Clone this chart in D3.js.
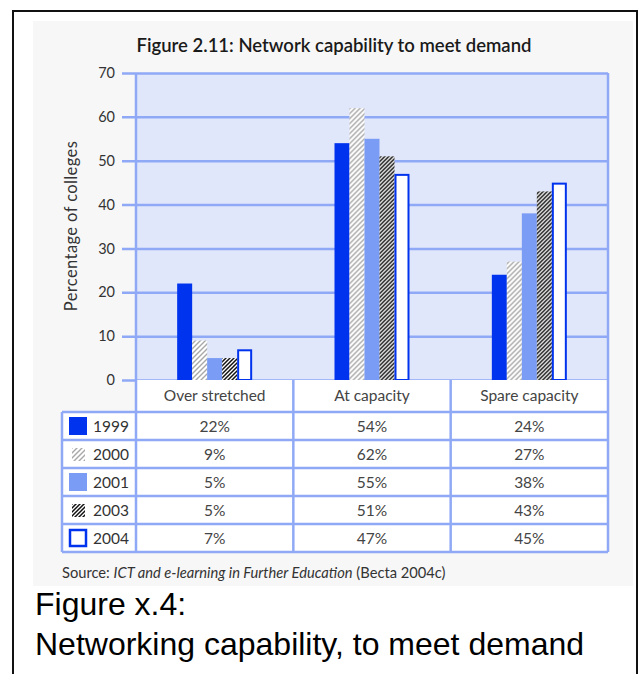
<!DOCTYPE html>
<html>
<head>
<meta charset="utf-8">
<script src="https://cdn.jsdelivr.net/npm/d3@7"></script>
<style>
  html, body { margin: 0; padding: 0; background: #ffffff; }
  svg { display: block; }
</style>
</head>
<body>
<svg id="chart" width="640" height="674"></svg>
<script>
// Survey categories and yearly shares of colleges (percent)
const categories = ["Over stretched", "At capacity", "Spare capacity"];
const years = ["1999", "2000", "2001", "2003", "2004"];
const values1999 = [22, 54, 24];
const values2000 = [9, 62, 27];
const values2001 = [5, 55, 38];
const values2003 = [5, 51, 43];
const values2004 = [7, 47, 45];
const yTicks = [0, 10, 20, 30, 40, 50, 60, 70];

const series = [
  { year: years[0], values: values1999 },
  { year: years[1], values: values2000 },
  { year: years[2], values: values2001 },
  { year: years[3], values: values2003 },
  { year: years[4], values: values2004 }
];

const chartFont = "Lato, 'Noto Sans', sans-serif";
const gridBlue = "#8fa9f6";
const svg = d3.select("#chart");

// Outer frame and inner light panel
svg.append("rect").attr("x", 13).attr("y", 11).attr("width", 624).attr("height", 680)
  .attr("fill", "#ffffff").attr("stroke", "#111").attr("stroke-width", 2);
svg.append("rect").attr("x", 33).attr("y", 21).attr("width", 600).attr("height", 565)
  .attr("fill", "#f7f7f7");

// Hatch patterns
const defs = svg.append("defs");
function hatch(id, color, size, width) {
  const p = defs.append("pattern").attr("id", id)
    .attr("patternUnits", "userSpaceOnUse").attr("width", size).attr("height", size);
  p.append("rect").attr("width", size).attr("height", size).attr("fill", "#ffffff");
  p.append("path")
    .attr("d", `M-1,1 l2,-2 M0,${size} l${size},${-size} M${size - 1},${size + 1} l2,-2`)
    .attr("stroke", color).attr("stroke-width", width);
}
hatch("hatchGrey", "#a8a8a8", 5, 1.4);
hatch("hatchBlack", "#111111", 4, 1.5);

const styles = {
  "1999": { fill: "#0033ee", stroke: "none" },
  "2000": { fill: "url(#hatchGrey)", stroke: "none" },
  "2001": { fill: "#7b9cf4", stroke: "none" },
  "2003": { fill: "url(#hatchBlack)", stroke: "none" },
  "2004": { fill: "#ffffff", stroke: "#0033ee" }
};

// Scales
const plotLeft = 136, plotRight = 608;
const y = d3.scaleLinear().domain([0, 70]).range([380, 73]);
const x = d3.scaleBand().domain(categories).range([plotLeft, plotRight]);
const groupWidth = 75;
const xs = d3.scaleBand().domain(years)
  .range([x.bandwidth() / 2 - groupWidth / 2, x.bandwidth() / 2 + groupWidth / 2]);

// Plot background
svg.append("rect").attr("x", plotLeft).attr("y", y(70))
  .attr("width", plotRight - plotLeft).attr("height", y(0) - y(70))
  .attr("fill", "#e1e7fa");

// Title
svg.append("text").attr("x", 334).attr("y", 52).attr("text-anchor", "middle")
  .attr("font-family", chartFont).attr("font-size", 18.5).attr("font-weight", 600)
  .attr("fill", "#1a1a1a")
  .text("Figure 2.11: Network capability to meet demand");

// Y axis with gridlines
const axisX = 122;
const yAxis = svg.append("g").attr("transform", `translate(${axisX},0)`)
  .call(d3.axisLeft(y).tickValues(yTicks).tickSizeInner(-(plotRight - axisX))
    .tickSizeOuter(0).tickPadding(7));
yAxis.select(".domain").remove();
yAxis.selectAll(".tick line").attr("stroke", gridBlue).attr("stroke-width", 2.5);
yAxis.selectAll(".tick text").attr("font-family", chartFont).attr("font-size", 14.5)
  .attr("fill", "#333");

svg.append("text")
  .attr("transform", "translate(77,226) rotate(-90)")
  .attr("text-anchor", "middle")
  .attr("font-family", chartFont).attr("font-size", 16.5).attr("letter-spacing", 0.4)
  .attr("fill", "#333")
  .text("Percentage of colleges");

// Bars
const groups = svg.append("g").selectAll("g").data(categories).join("g")
  .attr("transform", d => `translate(${x(d)},0)`);
groups.selectAll("rect")
  .data((c, i) => series.map(s => ({ year: s.year, value: s.values[i] })))
  .join("rect")
  .attr("x", d => xs(d.year) + (styles[d.year].stroke !== "none" ? 1 : 0))
  .attr("y", d => y(d.value) + (styles[d.year].stroke !== "none" ? 1 : 0))
  .attr("width", d => xs.bandwidth() - (styles[d.year].stroke !== "none" ? 2 : 0))
  .attr("height", d => y(0) - y(d.value) - (styles[d.year].stroke !== "none" ? 1 : 0))
  .attr("fill", d => styles[d.year].fill)
  .attr("stroke", d => styles[d.year].stroke)
  .attr("stroke-width", 2);

// Data table
const headerTop = y(0), headerBottom = 412, rowH = 28;
const legendLeft = 62;
const tableBottom = headerBottom + rowH * years.length;

svg.append("rect").attr("x", plotLeft).attr("y", headerTop)
  .attr("width", plotRight - plotLeft).attr("height", headerBottom - headerTop).attr("fill", "#fff");
svg.append("rect").attr("x", legendLeft).attr("y", headerBottom)
  .attr("width", plotRight - legendLeft).attr("height", tableBottom - headerBottom).attr("fill", "#fff");

const tableText = svg.append("g").attr("font-family", chartFont).attr("fill", "#444");
tableText.selectAll("text.head").data(categories).join("text").attr("class", "head")
  .attr("x", d => x(d) + x.bandwidth() / 2).attr("y", 401)
  .attr("text-anchor", "middle").attr("font-size", 15.5).text(d => d);

series.forEach((s, r) => {
  const top = headerBottom + r * rowH;
  // legend key
  const st = styles[s.year];
  if (s.year === "2000" || s.year === "2003") {
    svg.append("rect").attr("x", 72).attr("y", top + 8).attr("width", 13).attr("height", 13)
      .attr("fill", st.fill);
  } else {
    svg.append("rect")
      .attr("x", st.stroke !== "none" ? 70 : 69).attr("y", top + (st.stroke !== "none" ? 6 : 5))
      .attr("width", st.stroke !== "none" ? 16 : 18).attr("height", st.stroke !== "none" ? 16 : 18)
      .attr("fill", st.fill).attr("stroke", st.stroke).attr("stroke-width", 2.5);
  }
  tableText.append("text").attr("x", 93).attr("y", top + 19.5)
    .attr("font-size", 15.5).attr("fill", "#333").text(s.year);
  tableText.selectAll(null).data(s.values).join("text")
    .attr("x", (v, i) => x(categories[i]) + x.bandwidth() / 2).attr("y", top + 19.5)
    .attr("text-anchor", "middle").attr("font-size", 15.5).text(v => v + "%");
});

// Table rules
const rules = svg.append("g").attr("stroke", gridBlue).attr("stroke-width", 2.5);
d3.range(years.length + 1).forEach(i => {
  const yy = headerBottom + i * rowH;
  rules.append("line").attr("x1", legendLeft).attr("x2", plotRight).attr("y1", yy).attr("y2", yy);
});
rules.append("line").attr("x1", legendLeft).attr("x2", legendLeft)
  .attr("y1", headerBottom).attr("y2", tableBottom);
[plotLeft, plotRight].forEach(xx => rules.append("line")
  .attr("x1", xx).attr("x2", xx).attr("y1", y(70)).attr("y2", tableBottom));
categories.slice(1).forEach(c => rules.append("line")
  .attr("x1", x(c)).attr("x2", x(c)).attr("y1", headerTop).attr("y2", tableBottom));

// Source note
const src = svg.append("text").attr("x", 62).attr("y", 578)
  .attr("font-family", chartFont).attr("font-size", 14.7).attr("fill", "#333");
src.append("tspan").text("Source: ");
src.append("tspan").attr("font-style", "italic").text("ICT and e-learning in Further Education");
src.append("tspan").text(" (Becta 2004c)");

// Caption
const cap = svg.append("g").attr("font-family", "'Liberation Sans', Arial, sans-serif")
  .attr("font-size", 32).attr("fill", "#000");
cap.append("text").attr("x", 35).attr("y", 615).text("Figure x.4:");
cap.append("text").attr("x", 35).attr("y", 655).text("Networking capability, to meet demand");
</script>
</body>
</html>
